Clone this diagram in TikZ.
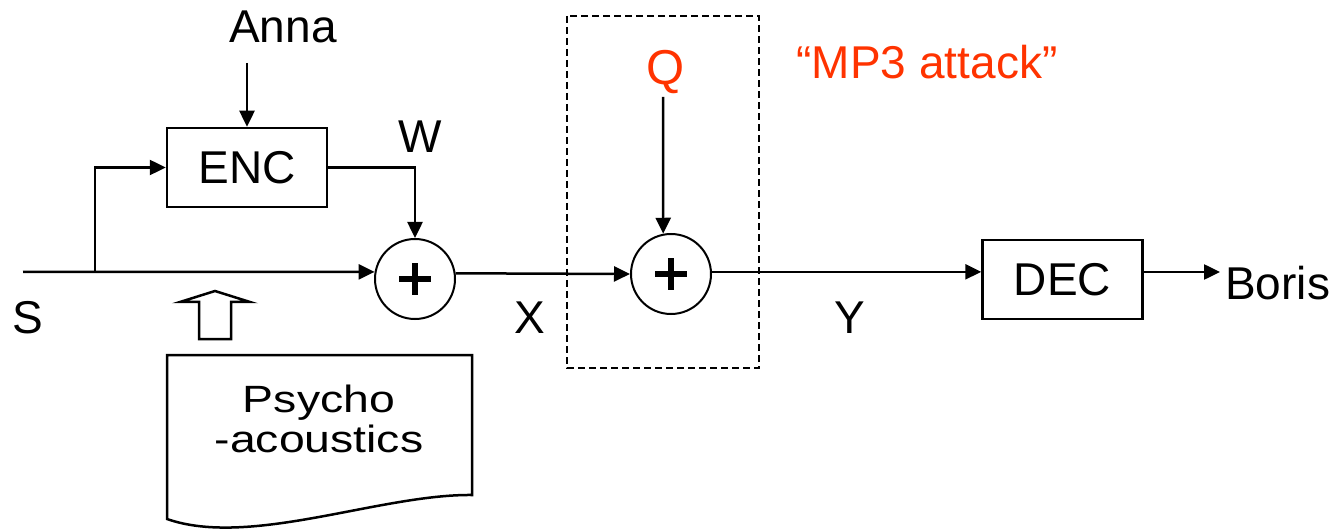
\documentclass[tikz,border=0pt]{standalone}
\usepackage{fontspec}
\setmainfont{Liberation Sans}
\usetikzlibrary{arrows.meta}
\definecolor{attack}{RGB}{255,51,0}
\begin{document}
\begin{tikzpicture}[x=1pt,y=-1pt,
  lbl/.style={font=\fontsize{46}{50}\selectfont, inner sep=0pt, anchor=base},
  blk/.style={draw, line width=2.5pt, minimum width=160pt, minimum height=79pt, inner sep=0pt, font=\fontsize{46}{50}\selectfont},
  sum/.style={draw, circle, line width=2pt, minimum size=80pt, inner sep=0pt},
  wire/.style={line width=2.5pt},
  arr/.style={wire, -{Triangle[length=16pt,width=15pt]}},
  plus/.style={line width=6.5pt},
]
\useasboundingbox (0,0) rectangle (1341,529);

% blocks
\node[blk] (enc) at (247,167.5) {ENC};
\node[blk] (dec) at (1062.5,279.5) {DEC};
\node[sum] (c1) at (415,279) {};
\node[sum] (c2) at (671,274) {};
\draw[plus] ([xshift=-16pt]c1.center) -- ([xshift=16pt]c1.center);
\draw[plus] ([yshift=-16pt]c1.center) -- ([yshift=16pt]c1.center);
\draw[plus] ([xshift=-16pt]c2.center) -- ([xshift=16pt]c2.center);
\draw[plus] ([yshift=-16pt]c2.center) -- ([yshift=16pt]c2.center);

% labels
\node[lbl] (anna) at (283,43) {Anna};
\node[lbl] (w) at (420,153) {W};
\node[lbl] (s) at (28,333) {S};
\node[lbl] (x) at (530,333) {X};
\node[lbl] (y) at (850,333) {Y};
\node[lbl, text=attack, font=\fontsize{49}{50}\selectfont] (q) at (666,85) {Q};
\node[lbl, text=attack] (mp3) at (927,79) {“MP3 attack”};
\node[lbl, anchor=base west] (boris) at (1225,299) {Boris};

% coordinates for free ends
\coordinate (sin) at (23,272);
\coordinate (br) at (95,272);
\coordinate (annaout) at (247,63);
\coordinate (qout) at (663,97);
\coordinate (bo) at (1220,272);

% connectors
\draw[arr] (sin) -- (c1.170);
\draw[arr] (br) |- (enc.west);
\draw[arr] (annaout) -- (enc.north);
\draw[arr] (enc.east) -| (c1.north);
\draw[arr] (c1.8) -- (c2.west);
\draw[arr] (qout) -- (c2.101);
\draw[arr] (c2.3) -- (c2.3 -| dec.west);
\draw[arr] (dec.east |- bo) -- (bo);

% dashed attack region
\draw[line width=2pt, dash pattern=on 7pt off 4pt] (567,16) rectangle (759,368);

% hollow arrow
\draw[line width=2.5pt] (215,291) -- (250,302) -- (231,302) -- (231,339) -- (199,339) -- (199,302) -- (180,302) -- cycle;

% document shape
\draw[line width=2.5pt] (167,355) -- (472,355) -- (472,495) .. controls (380,494) and (250,548) .. (167,519) -- cycle;
\node[anchor=base, inner sep=0pt, align=center, font=\fontsize{38}{40}\selectfont] (psy) at (319,452)
  {\scalebox{1.22}[1]{Psycho}\\\scalebox{1.22}[1]{-acoustics}};
\end{tikzpicture}
\end{document}
